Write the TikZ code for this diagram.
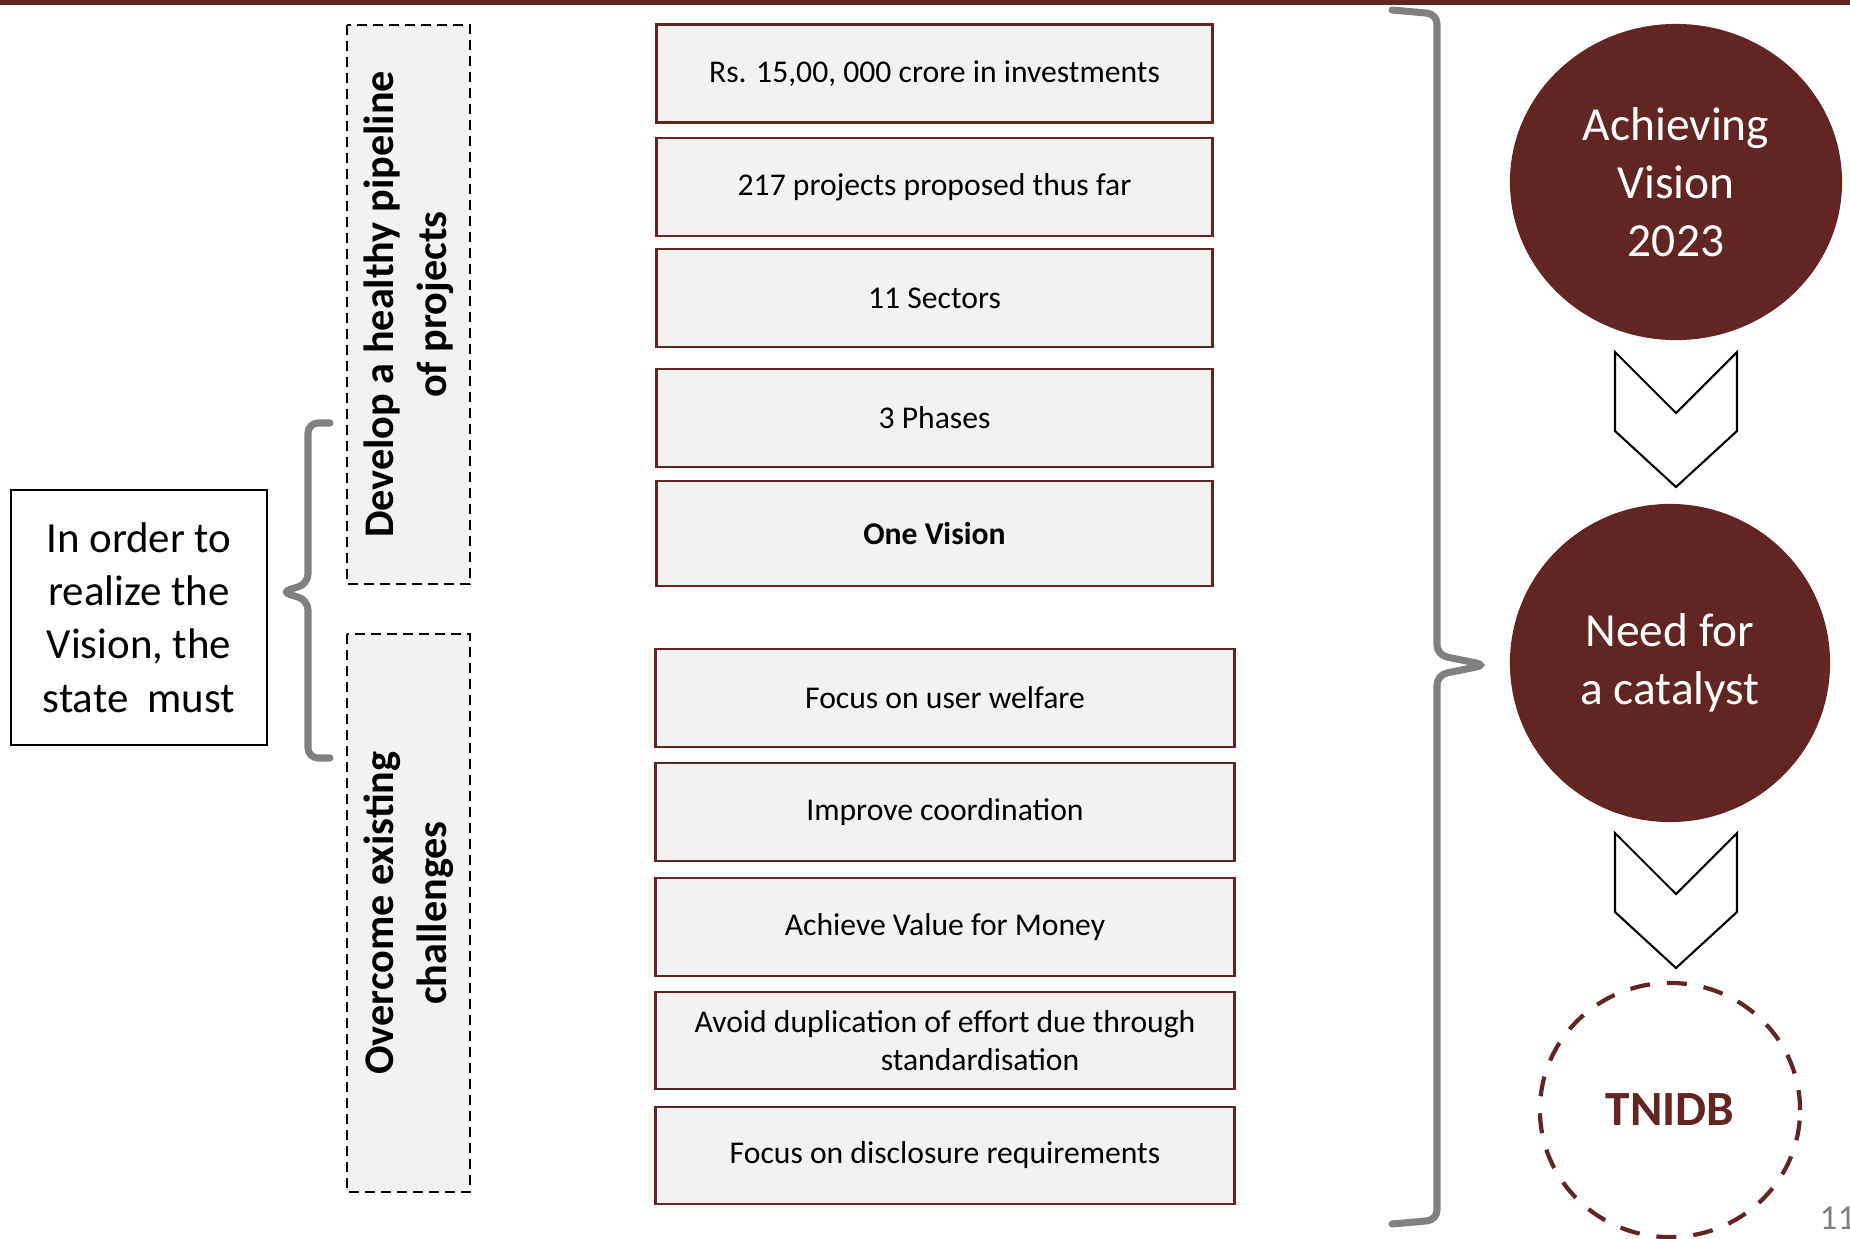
\documentclass[tikz,border=0pt]{standalone}
\usepackage{fontspec}
\setmainfont{Carlito}
\usetikzlibrary{shapes.geometric}

\definecolor{vred}{HTML}{632523}
\definecolor{boxgray}{HTML}{F2F2F2}
\definecolor{bracegray}{HTML}{808080}

\begin{document}
\begin{tikzpicture}[
    x=0.01cm, y=-0.01cm,
    item/.style={rectangle, draw=vred, fill=boxgray, line width=0.8pt, inner sep=0pt,
        minimum height=0.98cm, align=center, font=\fontsize{9}{11}\selectfont},
    topitem/.style={item, minimum width=5.55cm},
    botitem/.style={item, minimum width=5.78cm},
    goal/.style={rectangle, draw=black, dash pattern=on 0.1cm off 0.06cm, line width=0.7pt,
        fill=boxgray, rotate=90, minimum width=5.59cm, minimum height=1.23cm,
        align=center, font=\fontsize{12}{15}\selectfont\bfseries},
    vision/.style={ellipse, fill=vred, text=white, inner sep=0pt, align=center,
        font=\fontsize{13.5}{16.5}\selectfont},
    brace/.style={draw=bracegray, line width=2pt, rounded corners=0.1cm, line cap=round},
    chevron/.style={draw=black, fill=white, line width=0.6pt}
]
\useasboundingbox (0,0) rectangle (1850,1239);

% Header bar
\fill[vred] (0,0) rectangle (1850,5);

% Left statement
\node[rectangle, draw=black, line width=0.7pt, minimum width=2.56cm, minimum height=2.55cm,
    align=center, font=\fontsize{12.2}{15.2}\selectfont] (state) at (139,617.5)
    {In order to\\realize the\\Vision, the\\state~ must};

\draw[brace] (330,423) -- (308,423) -- (308,584) -- (281,592) -- (308,600) -- (308,758) -- (330,758);

% Goals (vertical text)
\node[goal] (pipeline) at (408.5,304.5) {Develop a healthy pipeline\\of projects};
\node[goal, minimum width=5.58cm] (challenges) at (408.5,913) {Overcome existing\\challenges};

% Pipeline items
\node[topitem] (invest) at (934.5,73.5) {Rs. 15,00, 000 crore in investments};
\node[topitem] (proposed) at (934.5,187) {217 projects proposed thus far};
\node[topitem] (sectors) at (934.5,298) {11 Sectors};
\node[topitem] (phases) at (934.5,418) {3 Phases};
\node[topitem, minimum height=1.05cm, font=\fontsize{9}{11}\selectfont\bfseries] (onevision) at (934.5,533.5) {One Vision};

% Challenge items
\node[botitem] (welfare) at (945,698) {Focus on user welfare};
\node[botitem] (coordination) at (945,812) {Improve coordination};
\node[botitem] (money) at (945,927) {Achieve Value for Money};
\node[botitem, minimum height=0.97cm] (duplication) at (945,1040.5)
    {Avoid duplication of effort due through\\\hspace*{0.7cm}standardisation};
\node[botitem, minimum height=0.97cm] (disclosure) at (945,1155.5) {Focus on disclosure requirements};

\draw[brace] (1392,10) -- (1437,14) -- (1437,655) -- (1486,665) -- (1437,675) -- (1437,1220) -- (1392,1224);

% Outcome chain
\node[vision, minimum width=3.32cm, minimum height=3.16cm] (achieve) at (1676,182) {Achieving\\Vision\\2023};
\node[vision, minimum width=3.2cm, minimum height=3.18cm] (catalyst) at (1670,663) {Need for\\a catalyst};
\node[ellipse, draw=vred, line width=1.2pt, dash pattern=on 0.2cm off 0.17cm, text=vred,
    minimum width=2.6cm, minimum height=2.54cm, font=\fontsize{14}{16}\selectfont\bfseries]
    (tnidb) at (1670,1110) {TNIDB};

\foreach \y in {352,833} {
    \draw[chevron] (1615,\y) -- ++(61,61) -- ++(61,-61) -- ++(0,79) -- ++(-61,56) -- ++(-61,-56) -- cycle;
}

% Page number
\node[anchor=west, inner sep=0pt, text=gray, font=\fontsize{10}{12}\selectfont] (pagenum) at (1819,1218) {11};

\end{tikzpicture}
\end{document}
